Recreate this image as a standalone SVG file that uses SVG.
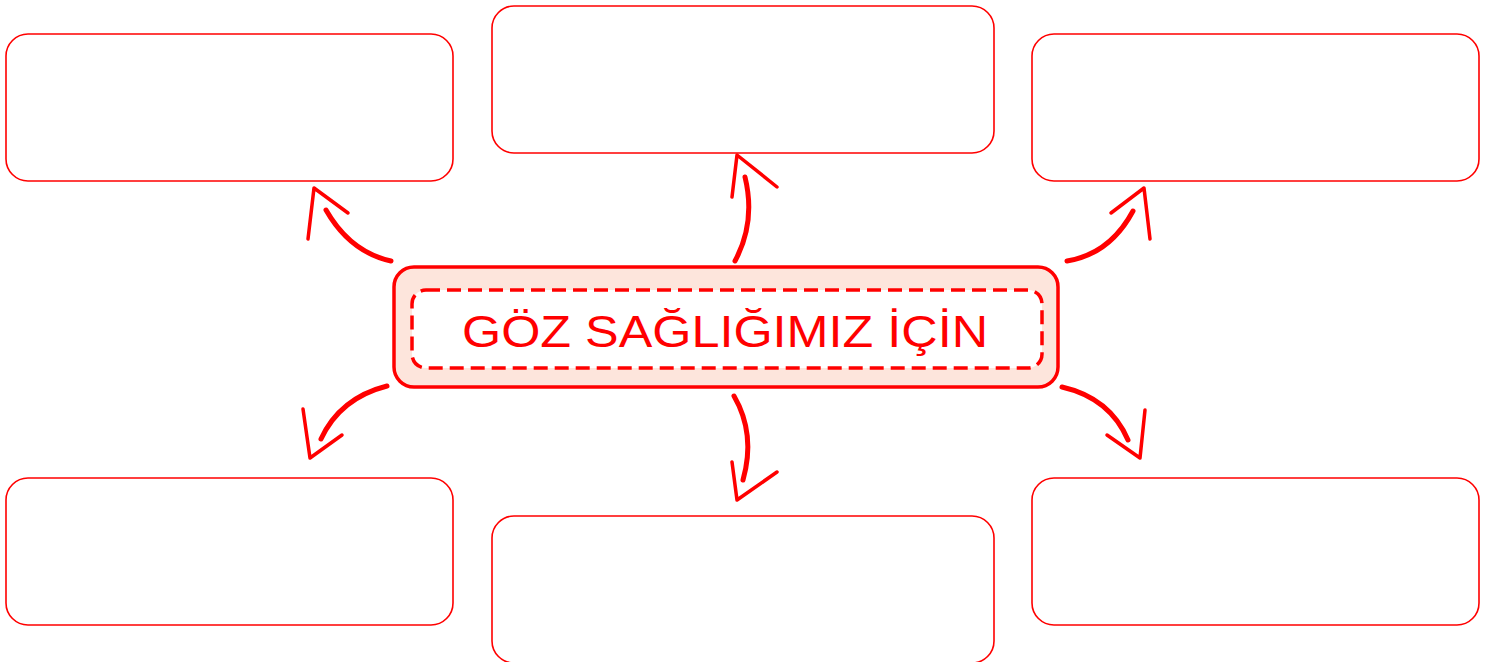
<svg xmlns="http://www.w3.org/2000/svg" width="1493" height="662" viewBox="0 0 1493 662">
<style>
.box{fill:#fff;stroke:#f00;stroke-width:1.6}
.arr{fill:none;stroke:#f00;stroke-width:5;stroke-linecap:round;stroke-linejoin:round}
.head{fill:none;stroke:#f00;stroke-width:3.5;stroke-linecap:round;stroke-linejoin:round}
.title{font-family:"Liberation Sans",sans-serif;font-size:44px;fill:#f00}
</style>
<rect width="1493" height="662" fill="#fff"/>
<g id="box-top-left"><rect class="box" x="6" y="34" width="447" height="147" rx="22"/></g>
<g id="box-top-middle"><rect class="box" x="492" y="6" width="502" height="147" rx="22"/></g>
<g id="box-top-right"><rect class="box" x="1032" y="34" width="447" height="147" rx="22"/></g>
<g id="box-bottom-left"><rect class="box" x="6" y="478" width="447" height="147" rx="22"/></g>
<g id="box-bottom-middle"><rect class="box" x="492" y="516" width="502" height="147" rx="22"/></g>
<g id="box-bottom-right"><rect class="box" x="1032" y="478" width="447" height="147" rx="22"/></g>
<g id="center">
<rect x="394" y="267" width="664" height="120" rx="20" fill="#fde5dc" stroke="#f00" stroke-width="3.5"/>
<rect x="412" y="290" width="630" height="78" rx="14" fill="#fff" stroke="#f00" stroke-width="3.5" stroke-dasharray="14 7"/>
<text class="title" x="725" y="347" text-anchor="middle" textLength="526" lengthAdjust="spacingAndGlyphs">GÖZ SAĞLIĞIMIZ İÇİN</text>
</g>
<g id="connectors">
<path class="arr" d="M391 261 Q350 252 326 210"/>
<path class="head" d="M308 239 L314 188 L348 213"/>
<path class="arr" d="M735 261 Q756 222 745 177"/>
<path class="head" d="M732 197 L737 155 L777 187"/>
<path class="arr" d="M1067 261 Q1110 254 1133 211"/>
<path class="head" d="M1150 239 L1144 188 L1111 213"/>
<path class="arr" d="M387 386 Q340 398 321 439"/>
<path class="head" d="M303 409 L310 458 L342 435"/>
<path class="arr" d="M734 396 Q756 434 743 480"/>
<path class="head" d="M732 462 L737 500 L777 472"/>
<path class="arr" d="M1062 387 Q1110 398 1128 440"/>
<path class="head" d="M1145 410 L1140 458 L1107 435"/>
</g>
</svg>
